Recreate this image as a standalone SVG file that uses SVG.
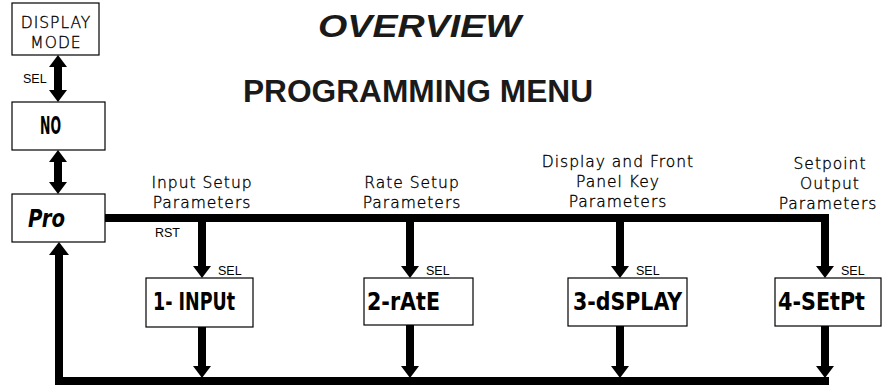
<svg xmlns="http://www.w3.org/2000/svg" width="883" height="389" viewBox="0 0 883 389">
<style>
.box{fill:#fff;stroke:#000;stroke-width:1.2}
.seg{font-family:"DejaVu Sans Condensed","Liberation Sans Narrow","DejaVu Sans",sans-serif;font-weight:bold;font-size:24px;fill:#000}
.lbl{font-family:"DejaVu Sans",sans-serif;font-weight:200;font-size:15.5px;letter-spacing:1px;fill:#000;stroke:#000;stroke-width:0.35;text-anchor:middle}
.sm{font-family:"Liberation Sans",Arial,sans-serif;font-size:12.5px;fill:#000}
.title{font-family:"Liberation Sans",Arial,sans-serif;font-weight:bold;font-size:31px;fill:#1a1a1a}
.ln{fill:none;stroke:#000;stroke-width:8}
.ah{fill:#000}
</style>
<g id="titles">
<text class="title" x="318" y="37" font-style="italic" textLength="203" lengthAdjust="spacingAndGlyphs">OVERVIEW</text>
<text class="title" x="243" y="102" textLength="350" lengthAdjust="spacingAndGlyphs">PROGRAMMING MENU</text>
</g>
<g id="connectors">
<line class="ln" x1="58" y1="64" x2="58" y2="93"/>
<polygon class="ah" points="58,55 67,67 49,67"/>
<polygon class="ah" points="58,102 67,90 49,90"/>
<line class="ln" x1="58" y1="159" x2="58" y2="185"/>
<polygon class="ah" points="58,150 67,162 49,162"/>
<polygon class="ah" points="58,194 67,182 49,182"/>
<polyline class="ln" points="105,218 825,218 825,268"/>
<line class="ln" x1="202" y1="218" x2="202" y2="268"/>
<line class="ln" x1="410" y1="218" x2="410" y2="268"/>
<line class="ln" x1="620" y1="218" x2="620" y2="268"/>
<polygon class="ah" points="202,278 211,266 193,266"/>
<polygon class="ah" points="410,278 419,266 401,266"/>
<polygon class="ah" points="620,278 629,266 611,266"/>
<polygon class="ah" points="825,278 834,266 816,266"/>
<line class="ln" x1="202" y1="327" x2="202" y2="370"/>
<line class="ln" x1="410" y1="325" x2="410" y2="370"/>
<line class="ln" x1="620" y1="326" x2="620" y2="370"/>
<line class="ln" x1="825" y1="326" x2="825" y2="370"/>
<polygon class="ah" points="202,378 211,366 193,366"/>
<polygon class="ah" points="410,378 419,366 401,366"/>
<polygon class="ah" points="620,378 629,366 611,366"/>
<polygon class="ah" points="825,378 834,366 816,366"/>
<polyline class="ln" points="829,381 59,381 59,252"/>
<polygon class="ah" points="59,242 69,255 49,255"/>
<text class="sm" x="23" y="83">SEL</text>
<text class="sm" x="155" y="237">RST</text>
<text class="sm" x="218" y="275">SEL</text>
<text class="sm" x="426" y="275">SEL</text>
<text class="sm" x="636" y="275">SEL</text>
<text class="sm" x="841" y="275">SEL</text>
</g>
<g id="display-mode">
<rect class="box" x="12" y="3" width="87" height="52"/>
<text class="lbl" x="56" y="28">DISPLAY</text>
<text class="lbl" x="56" y="48">MODE</text>
</g>
<g id="no">
<rect class="box" x="12" y="102" width="93" height="48"/>
<text class="seg" x="40" y="134" textLength="21" lengthAdjust="spacingAndGlyphs">NO</text>
</g>
<g id="pro">
<rect class="box" x="12" y="194" width="93" height="48"/>
<text class="seg" x="28" y="227" font-style="italic" textLength="37" lengthAdjust="spacingAndGlyphs">Pro</text>
</g>
<g id="input">
<text class="lbl" x="202" y="188">Input Setup</text>
<text class="lbl" x="202" y="208">Parameters</text>
<rect class="box" x="146" y="278" width="107" height="49"/>
<text class="seg" x="153" y="310" textLength="82" lengthAdjust="spacingAndGlyphs">1- INPUt</text>
</g>
<g id="rate">
<text class="lbl" x="412" y="188">Rate Setup</text>
<text class="lbl" x="412" y="208">Parameters</text>
<rect class="box" x="364" y="278" width="109" height="47"/>
<text class="seg" x="367" y="310" textLength="73" lengthAdjust="spacingAndGlyphs">2-rAtE</text>
</g>
<g id="display">
<text class="lbl" x="618" y="167">Display and Front</text>
<text class="lbl" x="618" y="187">Panel Key</text>
<text class="lbl" x="618" y="207">Parameters</text>
<rect class="box" x="568" y="278" width="119" height="48"/>
<text class="seg" x="573" y="310" textLength="109" lengthAdjust="spacingAndGlyphs">3-dSPLAY</text>
</g>
<g id="setpoint">
<text class="lbl" x="830" y="169">Setpoint</text>
<text class="lbl" x="830" y="189">Output</text>
<text class="lbl" x="828" y="209">Parameters</text>
<rect class="box" x="775" y="278" width="106" height="48"/>
<text class="seg" x="778" y="310" textLength="87" lengthAdjust="spacingAndGlyphs">4-SEtPt</text>
</g>
</svg>
